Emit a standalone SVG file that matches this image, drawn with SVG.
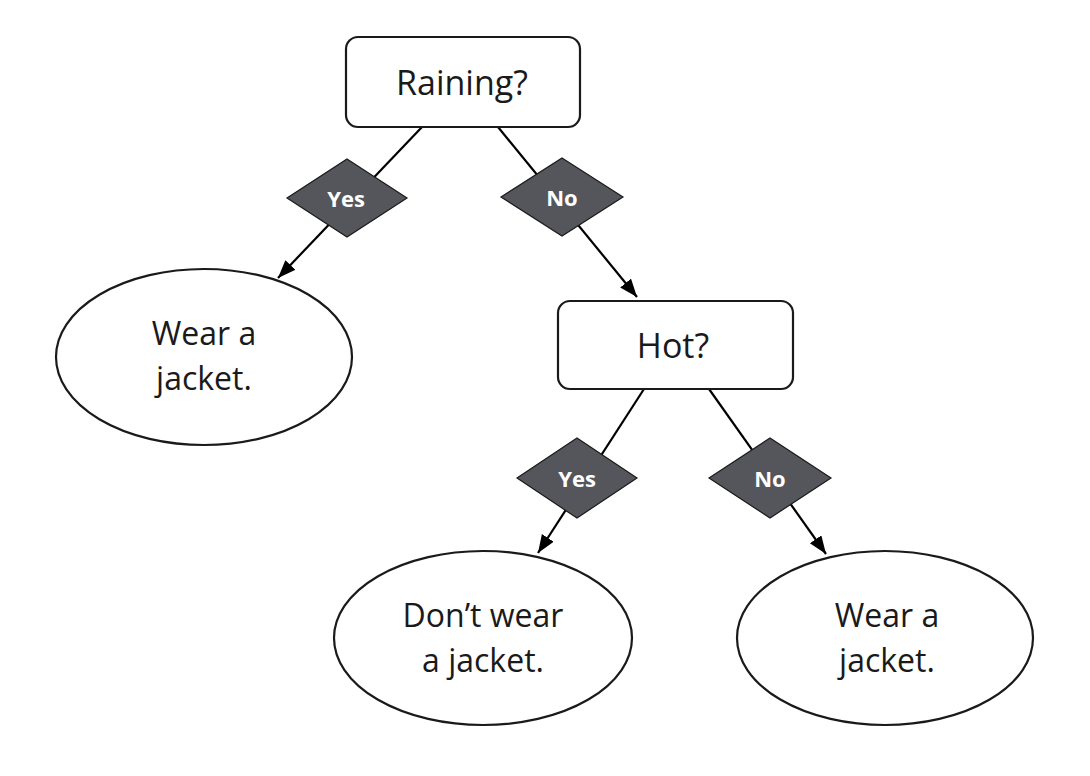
<svg xmlns="http://www.w3.org/2000/svg" width="1090" height="776" viewBox="0 0 1090 776">
<style>
.box{fill:#fff;stroke:#1a1a1a;stroke-width:2.2}
.dia{fill:#54565c;stroke:#1a1a1a;stroke-width:1.2}
.conn{stroke:#000;stroke-width:2.2;fill:none}
.t{font-family:"Open Sans","Noto Sans","Liberation Sans",sans-serif;font-size:34px;fill:#1a1a1a;text-anchor:middle}
.e{font-family:"Open Sans","Noto Sans","Liberation Sans",sans-serif;font-size:32px;fill:#1a1a1a;text-anchor:middle}
.d{font-family:"Open Sans","Noto Sans","Liberation Sans",sans-serif;font-size:22px;font-weight:bold;fill:#fff;text-anchor:middle}
</style>
<defs>
<marker id="arr" markerUnits="userSpaceOnUse" markerWidth="20" markerHeight="16" refX="18" refY="7" orient="auto">
<path d="M0,0 L18,7 L0,14 z" fill="#000"/>
</marker>
</defs>
<rect width="1090" height="776" fill="#fff"/>
<g id="connectors">
<line class="conn" x1="422" y1="127" x2="278" y2="278" marker-end="url(#arr)"/>
<line class="conn" x1="498" y1="127" x2="637" y2="297" marker-end="url(#arr)"/>
<line class="conn" x1="644" y1="389" x2="538" y2="553" marker-end="url(#arr)"/>
<line class="conn" x1="709" y1="389" x2="826" y2="554" marker-end="url(#arr)"/>
</g>
<g id="raining">
<rect class="box" x="346" y="37" width="234" height="90" rx="12"/>
<text class="t" x="462" y="95">Raining?</text>
</g>
<g id="yes1">
<polygon class="dia" points="347,159 407,198 347,237 287,198"/>
<text class="d" x="346" y="207">Yes</text>
</g>
<g id="no1">
<polygon class="dia" points="562,158 623,197 562,236 501,197"/>
<text class="d" x="562" y="206">No</text>
</g>
<g id="wear1">
<ellipse class="box" cx="204" cy="357" rx="148" ry="88"/>
<text class="e" x="204" y="345">Wear a</text>
<text class="e" x="204" y="390">jacket.</text>
</g>
<g id="hot">
<rect class="box" x="558" y="301" width="235" height="88" rx="12"/>
<text class="t" x="673" y="358">Hot?</text>
</g>
<g id="yes2">
<polygon class="dia" points="577,438 637,478 577,518 517,478"/>
<text class="d" x="577" y="487">Yes</text>
</g>
<g id="no2">
<polygon class="dia" points="770,438 831,478 770,518 709,478"/>
<text class="d" x="770" y="487">No</text>
</g>
<g id="dontwear">
<ellipse class="box" cx="483" cy="638" rx="149" ry="87"/>
<text class="e" x="483" y="627">Don’t wear</text>
<text class="e" x="483" y="672">a jacket.</text>
</g>
<g id="wear2">
<ellipse class="box" cx="885" cy="638" rx="148" ry="87"/>
<text class="e" x="887" y="627">Wear a</text>
<text class="e" x="887" y="672">jacket.</text>
</g>
</svg>
